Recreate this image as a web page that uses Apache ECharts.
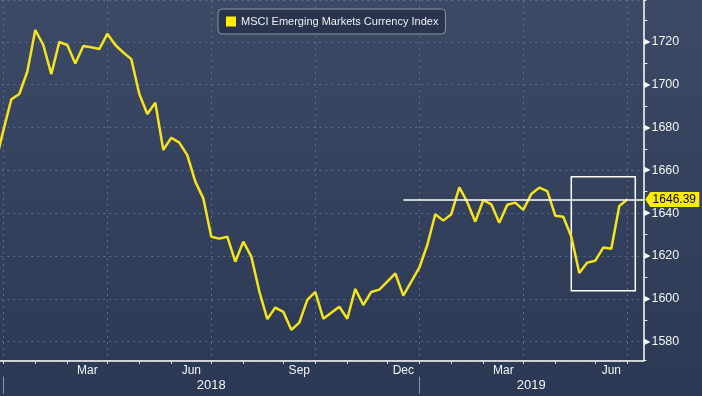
<!DOCTYPE html>
<html><head><meta charset="utf-8">
<script src="https://cdn.jsdelivr.net/npm/echarts@6/dist/echarts.min.js"></script>
<style>
html,body{margin:0;padding:0;background:#2c3a56;}
#c{width:702px;height:396px;background:linear-gradient(to bottom,#3d4a66 0%,#34415d 50%,#2b3955 100%);}
</style>
</head><body><div id="c"></div>
<script>
// ---------- data ----------
const seriesName = 'MSCI Emerging Markets Currency Index';
const firstWeek = [2017, 11, 29];   // Friday 29 Dec 2017 (year, monthIndex, day)
const weekCount = 82;               // weekly slots shown on the axis
const values = [
  1663.0, 1678.5, 1693.1, 1695.6, 1706.0, 1725.5, 1718.5, 1704.9, 1719.9, 1718.5,
  1709.9, 1718.0, 1717.4, 1716.6, 1723.7, 1718.5, 1715.0, 1711.9, 1695.6, 1686.3,
  1691.5, 1669.5, 1675.2, 1672.9, 1667.1, 1654.7, 1646.9, 1629.0, 1628.1, 1629.0,
  1617.3, 1626.7, 1619.7, 1603.5, 1590.5, 1595.9, 1593.9, 1585.5, 1588.9, 1599.5,
  1603.2, 1590.7, 1593.5, 1596.3, 1590.7, 1604.6, 1597.1, 1603.2, 1604.3, 1608.0,
  1611.9, 1601.5, 1608.0, 1614.5, 1625.1, 1639.5, 1636.5, 1639.5, 1652.0, 1645.1,
  1636.0, 1646.1, 1644.1, 1635.5, 1643.9, 1644.9, 1641.5, 1648.9, 1651.9, 1650.3,
  1638.8, 1638.3, 1629.0, 1612.0, 1616.9, 1617.8, 1623.9, 1623.4, 1643.3, 1646.39
];
const monthNames = ['Jan','Feb','Mar','Apr','May','Jun','Jul','Aug','Sep','Oct','Nov','Dec'];
const labelledMonths = [2, 5, 8, 11];
const yRange = [1571.1, 1739.5];
const yStep = 20;
const boxWeeks = ['2019-05-17', '2019-07-12'];
const boxValues = [1657, 1603.7];
const refLineFromWeek = '2018-12-21';

// ---------- derived axis structure ----------
const DAY = 86400000;
const t0 = Date.UTC(firstWeek[0], firstWeek[1], firstWeek[2]);
const weekDates = [];
for (let w = 0; w < weekCount; w++) weekDates.push(new Date(t0 + w * 7 * DAY));
const iso = d => d.toISOString().slice(0, 10);
const slots = [];
for (let i = 0; i <= 2 * (weekCount - 1); i++) {
  slots.push(i % 2 === 0 ? iso(weekDates[i / 2]) : iso(weekDates[(i - 1) / 2]) + ' mid');
}
const lastSlot = slots.length - 1;
const slotOf = s => slots.indexOf(s);

const monthStarts = [];
weekDates.forEach((d, w) => {
  if (d.getUTCDate() <= 7) monthStarts.push({ slot: 2 * w, month: d.getUTCMonth(), year: d.getUTCFullYear() });
});
const monthTickSet = new Set(monthStarts.map(m => m.slot));
const quarterSet = new Set(monthStarts.filter(m => m.month % 3 === 0).map(m => m.slot));
const monthLabelMap = {};
for (let j = 0; j < monthStarts.length - 1; j++) {
  const a = monthStarts[j], b = monthStarts[j + 1];
  if (labelledMonths.includes(a.month)) monthLabelMap[(a.slot + b.slot) / 2] = monthNames[a.month];
}
const yearStarts = monthStarts.filter(m => m.month === 0);
const yearStartSet = new Set(yearStarts.map(m => m.slot));
const yearLabelMap = {};
yearStarts.forEach((m, j) => {
  const end = j + 1 < yearStarts.length ? yearStarts[j + 1].slot : lastSlot;
  yearLabelMap[Math.round((m.slot + end) / 2)] = String(m.year);
});

const seriesData = values.map((v, w) => [2 * w, v]);
const last = values[values.length - 1];

const gridDash = { color: '#5d6e8a', width: 1, type: [2, 4] };
const FONT = 'Liberation Sans';

const chart = echarts.init(document.getElementById('c'), null, { renderer: 'canvas' });
chart.setOption({
  animation: false,
  backgroundColor: 'transparent',
  textStyle: { fontFamily: FONT },
  grid: { left: -4.7, right: 58.7, top: 0, bottom: 35.3, containLabel: false, outerBoundsMode: 'none' },
  legend: {
    data: [{ name: seriesName, icon: 'rect', itemStyle: { color: '#ffee00' } }],
    left: 218, top: 9,
    padding: [7, 7, 7, 8],
    itemWidth: 10, itemHeight: 10,
    backgroundColor: '#29344e',
    borderColor: '#8d95a6', borderWidth: 1, borderRadius: 4,
    textStyle: { color: '#f0f0f0', fontSize: 11, fontFamily: FONT },
    selectedMode: false
  },
  xAxis: [
    {
      type: 'category', data: slots, boundaryGap: false, gridIndex: 0,
      axisLine: { show: true, onZero: false, lineStyle: { color: '#ffffff', width: 1.5 } },
      axisTick: { show: true, length: 3, interval: i => monthTickSet.has(i), lineStyle: { color: '#ffffff', width: 1 } },
      axisLabel: {
        show: true, interval: i => monthLabelMap[i] !== undefined,
        formatter: (v, i) => monthLabelMap[i] || '',
        color: '#f4f4f4', fontSize: 12, margin: 4, fontFamily: FONT
      },
      splitLine: { show: true, interval: i => quarterSet.has(i), lineStyle: gridDash }
    },
    {
      type: 'category', data: slots, boundaryGap: false, gridIndex: 0, position: 'bottom', offset: 16,
      axisLine: { show: false },
      axisTick: { show: true, length: 17, interval: i => yearStartSet.has(i), lineStyle: { color: '#8a94a8', width: 1 } },
      axisLabel: {
        show: true, interval: i => yearLabelMap[i] !== undefined,
        formatter: (v, i) => yearLabelMap[i] || '',
        color: '#f4f4f4', fontSize: 13, margin: 2.5, fontFamily: FONT
      },
      splitLine: { show: false }
    }
  ],
  yAxis: {
    type: 'value', position: 'right', min: yRange[0], max: yRange[1],
    minInterval: yStep, maxInterval: yStep, splitNumber: 8,
    axisLine: { show: true, onZero: false, lineStyle: { color: '#ffffff', width: 1.5 } },
    axisTick: { show: true, length: 3, lineStyle: { color: '#ffffff', width: 1 } },
    minorTick: { show: true, splitNumber: 2, length: 4, lineStyle: { color: '#ffffff', width: 1 } },
    axisLabel: {
      show: true, margin: 1, showMinLabel: false, showMaxLabel: false,
      formatter: v => '{t|\u25B6}{v|' + v + '}',
      rich: {
        t: { fontSize: 8, fontFamily: 'DejaVu Sans', color: '#ffffff', padding: [0, 1, 0, 0] },
        v: { fontSize: 12.5, fontFamily: FONT, color: '#f4f4f4' }
      }
    },
    splitLine: { show: true, lineStyle: gridDash },
    minorSplitLine: { show: false }
  },
  series: [{
    name: seriesName, type: 'line', data: seriesData,
    xAxisIndex: 0, yAxisIndex: 0,
    showSymbol: false, symbol: 'none', clip: true, z: 3,
    lineStyle: { color: '#f5e41c', width: 2.5 },
    itemStyle: { color: '#ffee00' },
    markLine: {
      silent: true, symbol: ['none', 'none'], label: { show: false },
      lineStyle: { color: '#ffffff', width: 1.5, type: 'solid' },
      data: [[{ coord: [slotOf(refLineFromWeek), last] }, { coord: [lastSlot, last] }]]
    },
    markArea: {
      silent: true,
      itemStyle: { color: 'rgba(0,0,0,0)', borderColor: '#ffffff', borderWidth: 1.5 },
      data: [[{ coord: [slotOf(boxWeeks[0]), boxValues[0]] }, { coord: [slotOf(boxWeeks[1]), boxValues[1]] }]]
    },
    markPoint: {
      silent: true,
      symbol: 'path://M0,7.5L5,0L54,0L54,15L5,15Z',
      symbolSize: [54, 15], symbolKeepAspect: false, symbolOffset: [29, 0],
      itemStyle: { color: '#ffee00' },
      label: { show: true, position: 'inside', formatter: last.toFixed(2), color: '#000000', fontSize: 12, fontFamily: FONT, offset: [2, 0] },
      data: [{ coord: [lastSlot, last] }]
    }
  }]
});
</script>
</body></html>
